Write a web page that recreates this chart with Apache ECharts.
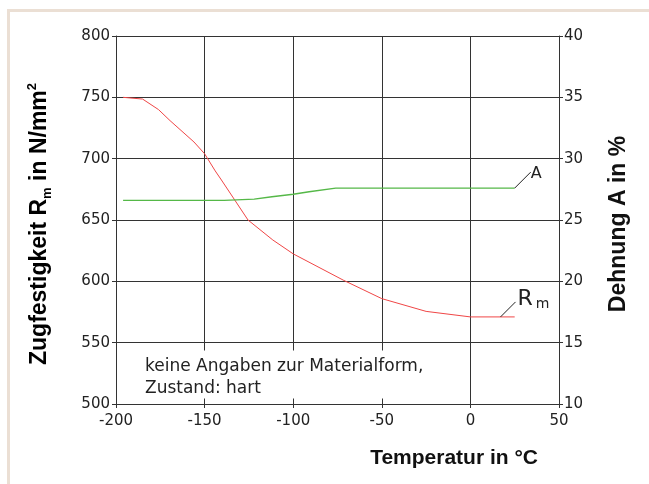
<!DOCTYPE html>
<html><head><meta charset="utf-8">
<script src="https://cdn.jsdelivr.net/npm/echarts@6/dist/echarts.min.js"></script>
<style>html,body{margin:0;padding:0;background:#fff}#c{width:649px;height:484px}</style>
</head><body><div id="c"></div>
<script>
// ---- data ----
const xTicks = [-200, -150, -100, -50, 0, 50];
const leftTicks = [500, 550, 600, 650, 700, 750, 800];
const rightTicks = [10, 15, 20, 25, 30, 35, 40];
const tempRm = [-196, -185, -176, -169.5, -156, -150, -144, -140.5, -133, -125.5, -111.5, -100, -71.5, -50, -25, 0, 25];
const rm     = [750, 748.6, 740, 731, 713.6, 704, 690, 682.6, 666.3, 650, 633.7, 622.4, 600.8, 585.9, 575.5, 571, 571];
const tempA  = [-196, -139, -122, -112, -100, -91, -76, 25];
const dehnung = [26.6, 26.6, 26.7, 26.9, 27.1, 27.3, 27.6, 27.6];
const noteLines = ['keine Angaben zur Materialform,', 'Zustand: hart'];
const xTitle = 'Temperatur in °C';
const rightTitle = 'Dehnung A in %';

const chart = echarts.init(document.getElementById('c'), null, {renderer: 'canvas'});
const tickFont = 'DejaVu Sans';
const dark = '#333333';
const axisCommon = {
  axisLine: {show: true, onZero: false, lineStyle: {color: dark, width: 1}},
  axisTick: {show: true, length: 4, lineStyle: {color: dark, width: 1}},
  axisLabel: {color: '#222', fontFamily: tickFont, fontSize: 15}
};
const grid = {left: 116, right: 90, top: 36, bottom: 80};
chart.setOption({
  animation: false,
  backgroundColor: '#ffffff',
  grid: grid,
  xAxis: {
    type: 'value', min: xTicks[0], max: xTicks[xTicks.length - 1], interval: 50,
    axisLine: axisCommon.axisLine, axisTick: axisCommon.axisTick,
    axisLabel: Object.assign({}, axisCommon.axisLabel, {margin: 10}),
    splitLine: {show: true, lineStyle: {color: dark, width: 1}}
  },
  yAxis: [{
    type: 'value', min: leftTicks[0], max: leftTicks[leftTicks.length - 1], interval: 50,
    axisLine: axisCommon.axisLine, axisTick: axisCommon.axisTick,
    axisLabel: Object.assign({}, axisCommon.axisLabel, {margin: 6}),
    splitLine: {show: true, lineStyle: {color: dark, width: 1}}
  }, {
    type: 'value', position: 'right', min: rightTicks[0], max: rightTicks[rightTicks.length - 1], interval: 5,
    axisLine: axisCommon.axisLine, axisTick: axisCommon.axisTick,
    axisLabel: Object.assign({}, axisCommon.axisLabel, {margin: 5}),
    splitLine: {show: false}
  }],
  series: [{
    name: 'Rm', type: 'line', yAxisIndex: 0, showSymbol: false, z: 3,
    data: tempRm.map((t, i) => [t, rm[i]]),
    lineStyle: {color: '#f04646', width: 1}
  }, {
    name: 'A', type: 'line', yAxisIndex: 1, showSymbol: false, z: 3,
    data: tempA.map((t, i) => [t, dehnung[i]]),
    lineStyle: {color: '#55b848', width: 1.4}
  }]
});

// annotations from data positions
const endA = chart.convertToPixel({xAxisIndex: 0, yAxisIndex: 1}, [tempA[tempA.length - 1], dehnung[dehnung.length - 1]]);
const leadRm = chart.convertToPixel({xAxisIndex: 0, yAxisIndex: 0}, [17, rm[rm.length - 1]]);
const boxTL = chart.convertToPixel({xAxisIndex: 0, yAxisIndex: 0}, [-200, 546]);
const boxBR = chart.convertToPixel({xAxisIndex: 0, yAxisIndex: 0}, [-20, 504.5]);

chart.setOption({
  graphic: [
    {type: 'rect', z: 100, silent: true, shape: {x: 8.5, y: 10.5, width: 700, height: 600},
     style: {fill: 'none', stroke: '#ebdfd4', lineWidth: 3}},
    {type: 'rect', z: 1, silent: true,
     shape: {x: boxTL[0] + 1, y: boxTL[1] + 3, width: boxBR[0] - boxTL[0], height: boxBR[1] - boxTL[1] - 3},
     style: {fill: '#ffffff'}},
    {type: 'text', z: 5, x: boxTL[0] + 29, y: boxTL[1] + 8,
     style: {text: noteLines.join('\n'), fontFamily: tickFont, fontSize: 17, lineHeight: 22, fill: '#222', align: 'left', verticalAlign: 'top'}},
    // A leader
    {type: 'line', z: 5, shape: {x1: endA[0], y1: endA[1], x2: endA[0] + 16, y2: endA[1] - 16},
     style: {stroke: '#222', lineWidth: 1}},
    {type: 'text', z: 5, x: endA[0] + 16, y: endA[1] - 14,
     style: {text: 'A', fontFamily: tickFont, fontSize: 16, fill: '#222', align: 'left', verticalAlign: 'middle'}},
    // Rm leader
    {type: 'line', z: 5, shape: {x1: leadRm[0], y1: leadRm[1], x2: leadRm[0] + 15, y2: leadRm[1] - 15},
     style: {stroke: '#222', lineWidth: 1}},
    {type: 'text', z: 5, x: leadRm[0] + 17, y: leadRm[1] - 6,
     style: {text: '{r|R}{m|m}', align: 'left', verticalAlign: 'bottom',
       rich: {r: {fontFamily: tickFont, fontSize: 22, lineHeight: 24, fill: '#222', color: '#222'},
              m: {fontFamily: tickFont, fontSize: 14, lineHeight: 14, verticalAlign: 'bottom', fill: '#222', color: '#222', padding: [0, 0, 0, 3]}}}},
    // axis titles
    {type: 'text', z: 5, x: 538, y: 458,
     style: {text: xTitle, fontFamily: 'Liberation Sans', fontWeight: 'bold', fontSize: 21, fill: '#111', align: 'right', verticalAlign: 'middle'}},
    {type: 'text', z: 5, x: 40, y: 224, rotation: Math.PI / 2,
     style: {text: '{a|Zugfestigkeit R}{b|m}{a| in N/mm}{c|2}', align: 'center', verticalAlign: 'middle',
       rich: {a: {fontFamily: 'Liberation Sans', fontWeight: 'bold', fontSize: 23, lineHeight: 28, color: '#111'},
              b: {fontFamily: 'Liberation Sans', fontWeight: 'bold', fontSize: 13, lineHeight: 13, verticalAlign: 'bottom', color: '#111'},
              c: {fontFamily: 'Liberation Sans', fontWeight: 'bold', fontSize: 13, lineHeight: 13, verticalAlign: 'top', color: '#111'}}}},
    {type: 'text', z: 5, x: 619, y: 224, rotation: Math.PI / 2,
     style: {text: rightTitle, fontFamily: 'Liberation Sans', fontWeight: 'bold', fontSize: 23, fill: '#111', align: 'center', verticalAlign: 'middle'}}
  ]
});
</script></body></html>
